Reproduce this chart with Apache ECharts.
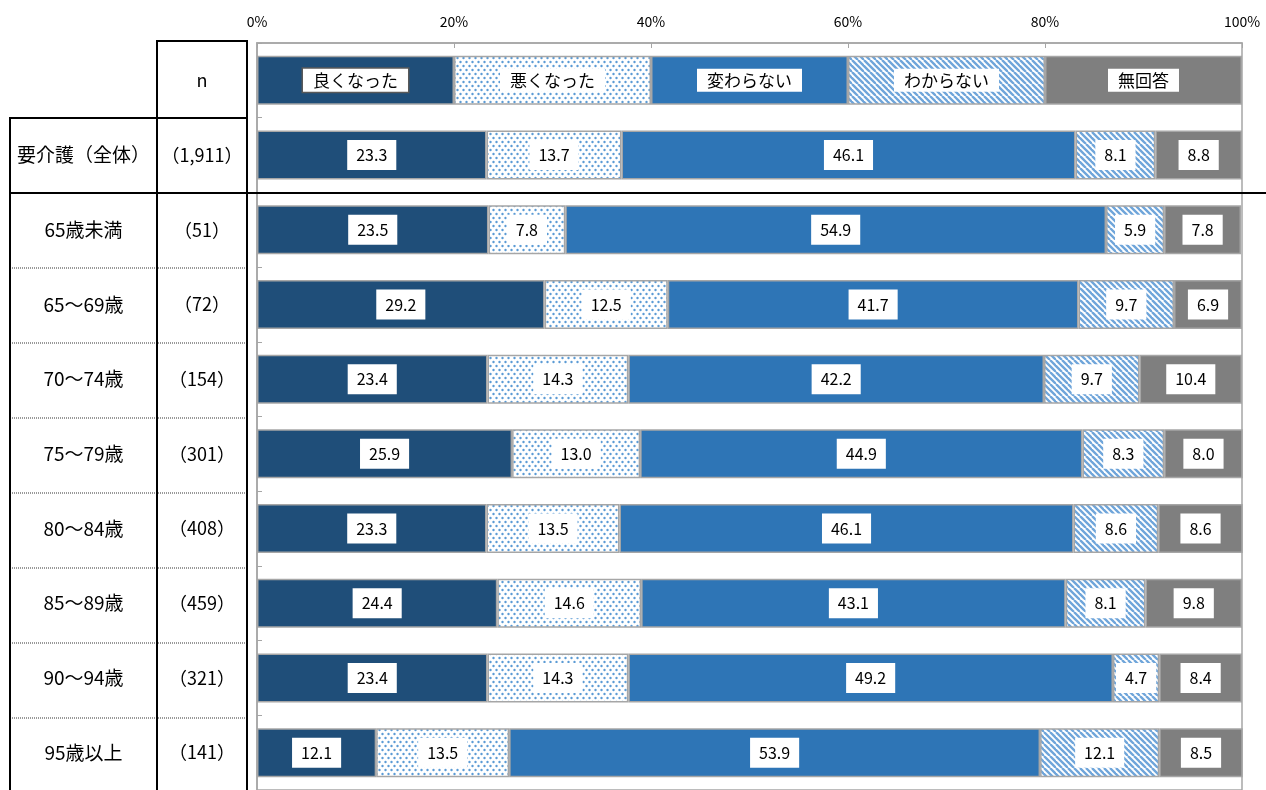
<!DOCTYPE html>
<html><head><meta charset="utf-8">
<script src="https://cdn.jsdelivr.net/npm/echarts@6/dist/echarts.min.js"></script>
<style>html,body{margin:0;padding:0;background:#fff;} #c{width:1266px;height:790px;}</style>
</head><body><div id="c"></div>
<script>
// ---- data ----
const categories = ['', '要介護（全体）', '65歳未満', '65～69歳', '70～74歳', '75～79歳', '80～84歳', '85～89歳', '90～94歳', '95歳以上'];
const nLabels = ['n', '（1,911）', '（51）', '（72）', '（154）', '（301）', '（408）', '（459）', '（321）', '（141）'];
const seriesNames = ['良くなった', '悪くなった', '変わらない', 'わからない', '無回答'];
const legendShares = [20, 20, 20, 20, 20];
const better   = [23.3, 23.5, 29.2, 23.4, 25.9, 23.3, 24.4, 23.4, 12.1];
const worse    = [13.7, 7.8, 12.5, 14.3, 13.0, 13.5, 14.6, 14.3, 13.5];
const same     = [46.1, 54.9, 41.7, 42.2, 44.9, 46.1, 43.1, 49.2, 53.9];
const unknown  = [8.1, 5.9, 9.7, 9.7, 8.3, 8.6, 8.1, 4.7, 12.1];
const noAnswer = [8.8, 7.8, 6.9, 10.4, 8.0, 8.6, 9.8, 8.4, 8.5];
const seriesValues = [better, worse, same, unknown, noAnswer];

// ---- layout / style ----
const FONT = '"Noto Sans CJK JP", "Noto Sans", sans-serif';
const GRID_LEFT = 257, GRID_RIGHT = 24, GRID_TOP = 43, ROW_H = 75;
const GRID_H = ROW_H * categories.length;

function dotPattern() {
  const c = document.createElement('canvas');
  c.width = 6; c.height = 8;
  const g = c.getContext('2d');
  g.fillStyle = '#fff'; g.fillRect(0, 0, 6, 8);
  g.fillStyle = '#5B9BD5';
  g.beginPath(); g.arc(1.5, 2, 1.2, 0, Math.PI * 2); g.fill();
  g.beginPath(); g.arc(4.5, 6, 1.2, 0, Math.PI * 2); g.fill();
  return c;
}
function stripePattern() {
  const s = 12, p = 6;
  const c = document.createElement('canvas');
  c.width = s; c.height = s;
  const g = c.getContext('2d');
  g.fillStyle = '#fff'; g.fillRect(0, 0, s, s);
  g.strokeStyle = '#6FA5DA'; g.lineWidth = 2.4;
  for (let i = -s; i <= 2 * s; i += p) {
    g.beginPath(); g.moveTo(i, 0); g.lineTo(i + s, s); g.stroke();
  }
  return c;
}
const fills = [
  '#1F4E79',
  { image: dotPattern(), repeat: 'repeat' },
  '#2E75B6',
  { image: stripePattern(), repeat: 'repeat' },
  '#7F7F7F'
];

const chart = echarts.init(document.getElementById('c'));

const series = seriesNames.map((name, s) => {
  const data = [{
    value: legendShares[s],
    label: {
      formatter: name, fontSize: 17, padding: [3, 10],
      borderColor: s === 0 ? '#595959' : 'transparent', borderWidth: s === 0 ? 1.5 : 0
    }
  }].concat(seriesValues[s].map(v => ({ value: v })));
  return {
    name, type: 'bar', stack: 'total', barWidth: 49,
    itemStyle: { color: fills[s], borderColor: '#A6A6A6', borderWidth: 1.5 },
    label: {
      show: true, position: 'inside', color: '#000', fontFamily: FONT, fontSize: 16,
      backgroundColor: '#fff', padding: [7, 9],
      formatter: p => p.value.toFixed(1)
    },
    emphasis: { disabled: true },
    data
  };
});

// table lines
const lines = [];
function hl(x1, x2, y, style) { lines.push({ type: 'line', shape: { x1, y1: y, x2, y2: y }, style, z: 100 }); }
function vl(x, y1, y2, style) { lines.push({ type: 'line', shape: { x1: x, y1, x2: x, y2 }, style, z: 100 }); }
const solid = { stroke: '#000', lineWidth: 2 };
const dotted = { stroke: '#999', lineWidth: 2, lineDash: [1, 1] };
const bottom = GRID_TOP + GRID_H;
hl(157, 248, GRID_TOP - 2, solid);
hl(9, 248, GRID_TOP + ROW_H, solid);
hl(9, 1266, GRID_TOP + ROW_H * 2, solid);
for (let k = 3; k < categories.length; k++) hl(10, 247, GRID_TOP + ROW_H * k, dotted);
vl(10, GRID_TOP + ROW_H, bottom, solid);
vl(157, GRID_TOP - 3, bottom, solid);
vl(247, GRID_TOP - 3, bottom, solid);

chart.setOption({
  animation: false,
  textStyle: { fontFamily: FONT },
  grid: {
    left: GRID_LEFT, right: GRID_RIGHT, top: GRID_TOP, height: GRID_H,
    show: true, borderColor: '#A6A6A6', borderWidth: 1.5, backgroundColor: 'transparent'
  },
  xAxis: {
    type: 'value', position: 'top', min: 0, max: 100, interval: 20,
    axisLine: { show: true, lineStyle: { color: '#A6A6A6', width: 1.5 } },
    axisTick: { show: true, inside: true, length: 5, lineStyle: { color: '#A6A6A6' } },
    splitLine: { show: false },
    axisLabel: { formatter: '{value}%', color: '#000', fontSize: 14, margin: 14, fontFamily: FONT }
  },
  yAxis: {
    type: 'category', inverse: true, data: categories,
    axisLine: { show: true, lineStyle: { color: '#A6A6A6', width: 1.5 } },
    axisTick: { show: true, inside: true, length: 5, lineStyle: { color: '#A6A6A6' } },
    axisLabel: {
      interval: 0, margin: 10, color: '#000',
      formatter: (v, i) => '{a|' + (v === '' ? '\u00a0' : v) + '}{b|' + nLabels[i] + '}',
      rich: {
        a: { width: 147, align: 'center', fontSize: 19, fontWeight: 'normal', fontFamily: FONT, color: '#000' },
        b: { width: 90, align: 'center', fontSize: 18, fontWeight: 'normal', fontFamily: FONT, color: '#000' }
      }
    }
  },
  series,
  graphic: lines
});
</script>
</body></html>
